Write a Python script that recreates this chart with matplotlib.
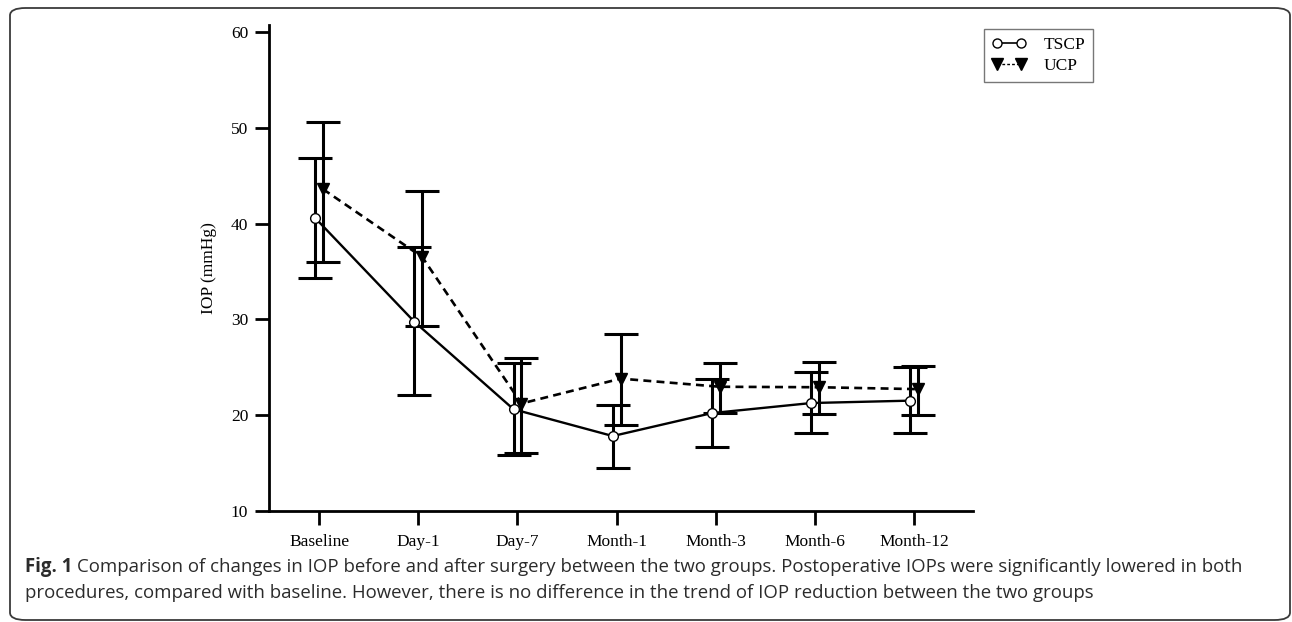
import matplotlib
matplotlib.use("Agg")
import matplotlib.pyplot as plt
from matplotlib.patches import FancyBboxPatch
from matplotlib.lines import Line2D
import numpy as np

# ---------------- data ----------------
categories = ["Baseline", "Day-1", "Day-7", "Month-1", "Month-3", "Month-6", "Month-12"]
tscp_mean = [40.6, 29.75, 20.6, 17.8, 20.2, 21.25, 21.5]
tscp_upper = [46.9, 37.6, 25.4, 21.05, 23.8, 24.5, 25.0]
tscp_lower = [34.35, 22.05, 15.8, 14.5, 16.65, 18.1, 18.15]
ucp_mean = [43.6, 36.5, 21.2, 23.8, 22.95, 22.9, 22.7]
ucp_upper = [50.6, 43.4, 26.0, 28.5, 25.4, 25.5, 25.15]
ucp_lower = [36.0, 29.3, 16.0, 18.95, 20.2, 20.1, 19.97]
yticks = [10, 20, 30, 40, 50, 60]
ylabel = "IOP (mmHg)"
legend_labels = ["TSCP", "UCP"]
caption_bold = "Fig. 1"
caption_line1 = ("Comparison of changes in IOP before and after surgery between the two groups. "
                 "Postoperative IOPs were significantly lowered in both")
caption_line2 = ("procedures, compared with baseline. However, there is no difference in the trend "
                 "of IOP reduction between the two groups")

W, H = 1292, 622
fig = plt.figure(figsize=(W / 100, H / 100), dpi=100)

# rounded frame around figure + caption
frame = FancyBboxPatch((10 / W, 2 / H), 1280 / W, 612 / H,
                       boxstyle="round,pad=0,rounding_size=0.012",
                       transform=fig.transFigure, fill=False,
                       edgecolor="#3a3a3a", linewidth=1.3)
fig.patches.append(frame)

ax = fig.add_axes([269 / W, 1 - 510.7 / H, (973 - 269) / W, (510.7 - 25) / H])

x = np.arange(len(categories))
off = 0.04
xt = x - off
xu = x + off

t_mean = np.array(tscp_mean)
u_mean = np.array(ucp_mean)
t_err = [t_mean - np.array(tscp_lower), np.array(tscp_upper) - t_mean]
u_err = [u_mean - np.array(ucp_lower), np.array(ucp_upper) - u_mean]

ax.errorbar(xt, t_mean, yerr=t_err, fmt="none", ecolor="black",
            elinewidth=2.2, capsize=12, capthick=2.2, zorder=2)
ax.errorbar(xu, u_mean, yerr=u_err, fmt="none", ecolor="black",
            elinewidth=2.2, capsize=12, capthick=2.2, zorder=2)

l1, = ax.plot(xt, t_mean, "-", color="black", linewidth=1.7,
              marker="o", markersize=7, markerfacecolor="white",
              markeredgecolor="black", markeredgewidth=1.0, zorder=4)
l2, = ax.plot(xu, u_mean, color="black", linewidth=1.9, linestyle=(0, (3, 2)),
              marker="v", markersize=9, markerfacecolor="black",
              markeredgecolor="black", zorder=3)

ax.set_xlim(-0.504, 6.59)
ax.set_ylim(10, 60.75)

for s in ["top", "right"]:
    ax.spines[s].set_visible(False)
for s in ["left", "bottom"]:
    ax.spines[s].set_linewidth(2.0)

serif = ["Liberation Serif", "DejaVu Serif"]
ax.set_yticks(yticks)
ax.set_yticklabels([str(v) for v in yticks], family=serif, fontsize=12.5)
ax.set_xticks(x)
ax.set_xticklabels(categories, family=serif, fontsize=12.5)
ax.tick_params(axis="both", direction="out", length=10, width=2.0, color="black")
ax.tick_params(axis="y", pad=5)
ax.tick_params(axis="x", pad=7)
ax.set_ylabel(ylabel, family=serif, fontsize=12.5, labelpad=10)

# legend handles (finer dashes for the UCP key, as in the original)
h1 = Line2D([], [], color="black", linewidth=1.2, marker="o", markersize=6.5,
            markerfacecolor="white", markeredgecolor="black", markeredgewidth=1.0)
h2 = Line2D([], [], color="black", linewidth=1.0, linestyle=(0, (2, 1.5)), marker="v",
            markersize=8, markerfacecolor="black", markeredgecolor="black")
leg = ax.legend([h1, h2], legend_labels, loc="upper left",
                bbox_to_anchor=(984 / W, 1 - 29 / H), bbox_transform=fig.transFigure,
                prop={"family": serif, "size": 12.5}, frameon=True, fancybox=False,
                edgecolor="#555555", numpoints=2, handlelength=2.0, handletextpad=1.0,
                labelspacing=0.3, borderpad=0.45, borderaxespad=0)
leg.get_frame().set_linewidth(1.0)

# caption
cap_color = "#2b2b2b"
capfont = ["Open Sans", "DejaVu Sans"]
fs = 13.4
tb = fig.text(25 / W, 1 - 567 / H, caption_bold, fontsize=fs, fontweight="bold",
              family=capfont, color=cap_color, va="center", ha="left")
fig.canvas.draw()
r = fig.canvas.get_renderer()
bb = tb.get_window_extent(renderer=r)
fig.text((bb.x1 + 5) / W, 1 - 567 / H, caption_line1, fontsize=fs,
         family=capfont, color=cap_color, va="center", ha="left")
fig.text(25 / W, 1 - 593 / H, caption_line2, fontsize=fs,
         family=capfont, color=cap_color, va="center", ha="left")

fig.savefig("out.png", dpi=100)
